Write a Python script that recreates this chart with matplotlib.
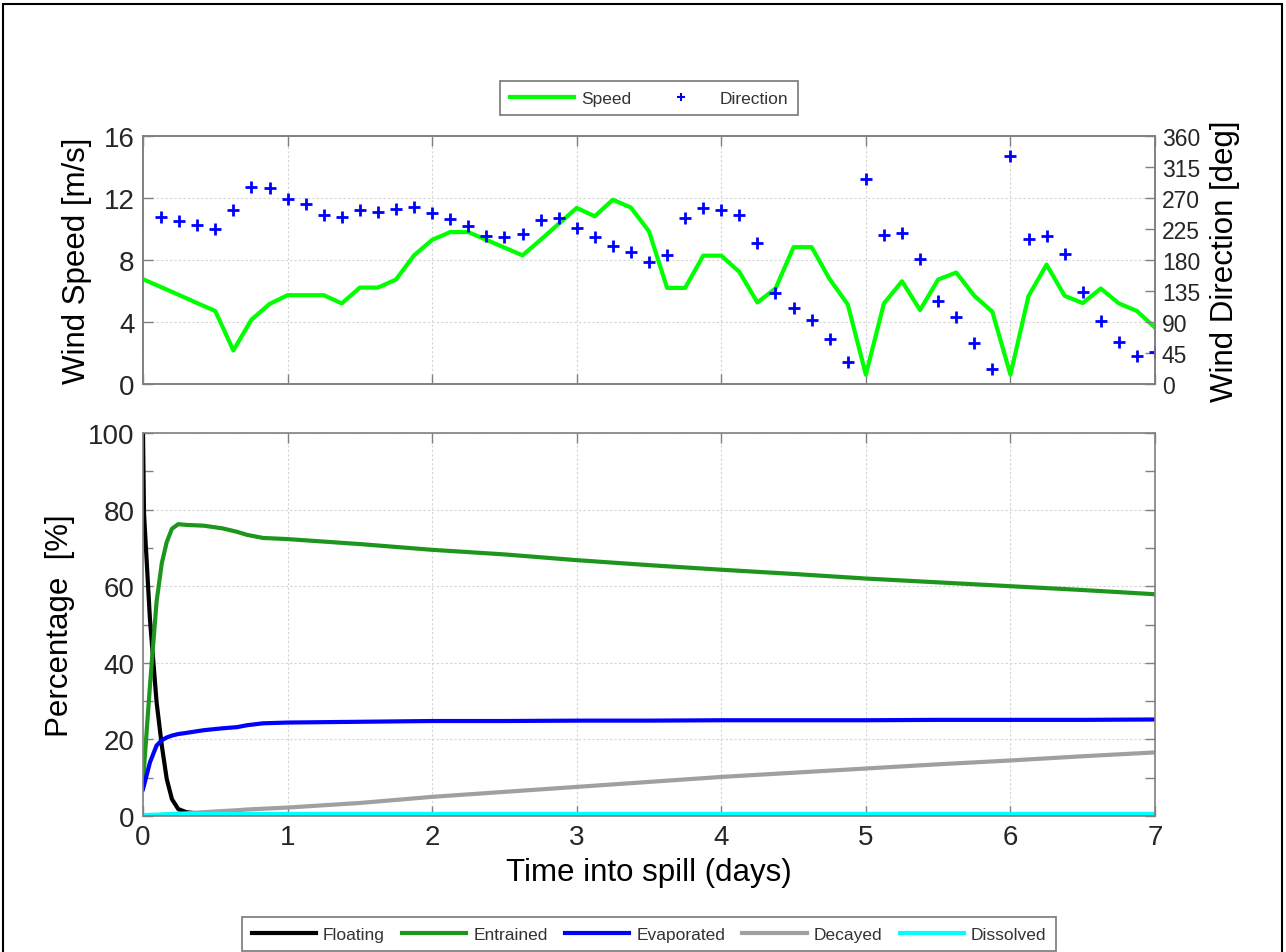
import matplotlib.pyplot as plt
from matplotlib.patches import Rectangle
from matplotlib.lines import Line2D

plt.rcParams['font.family'] = ['Liberation Sans', 'DejaVu Sans']

# wind record, 3-hourly (days)
wind_t = [0.0, 0.125, 0.25, 0.375, 0.5, 0.625, 0.75, 0.875, 1.0, 1.125, 1.25, 1.375,
          1.5, 1.625, 1.75, 1.875, 2.0, 2.125, 2.25, 2.375, 2.5, 2.625, 2.75, 2.875,
          3.0, 3.125, 3.25, 3.375, 3.5, 3.625, 3.75, 3.875, 4.0, 4.125, 4.25, 4.375,
          4.5, 4.625, 4.75, 4.875, 5.0, 5.125, 5.25, 5.375, 5.5, 5.625, 5.75, 5.875,
          6.0, 6.125, 6.25, 6.375, 6.5, 6.625, 6.75, 6.875, 7.0]
speed = [6.76, 6.25, 5.74, 5.22, 4.71, 2.16, 4.15, 5.16, 5.73, 5.73, 5.73, 5.20,
         6.22, 6.22, 6.74, 8.30, 9.30, 9.80, 9.80, 9.30, 8.80, 8.30, 9.30, 10.33,
         11.36, 10.82, 11.89, 11.38, 9.85, 6.20, 6.20, 8.28, 8.28, 7.23, 5.26, 6.16,
         8.83, 8.83, 6.76, 5.13, 0.60, 5.20, 6.63, 4.77, 6.74, 7.19, 5.69, 4.66,
         0.60, 5.67, 7.70, 5.69, 5.22, 6.16, 5.20, 4.71, 3.64]
direction = [None, 243, 236, 231, 225, 253, 286, 284, 268, 261, 246, 243,
             253, 250, 254, 257, 248, 240, 229, 215, 213, 218, 238, 241,
             226, 213, 201, 192, 177, 187, 241, 256, 253, 246, 204, 132,
             110, 93, 65, 32, 297, 217, 219, 181, 120, 97, 59, 22,
             331, 211, 215, 189, 133, 92, 61, 40, 46]

# mass balance (days, %)
t = [0.0, 0.007, 0.048, 0.094, 0.13, 0.164, 0.2, 0.244, 0.3, 0.42, 0.55, 0.65,
     0.72, 0.83, 1.0, 1.5, 2.0, 2.5, 3.0, 3.5, 4.0, 4.5, 5.0, 5.5, 6.0, 6.5, 7.0]
floating = [100, 79, 51.4, 29.7, 18.4, 9.7, 4.4, 1.8, 1.0, 0.5, 0.2, 0.1,
            0, 0, 0, 0, 0, 0, 0, 0, 0, 0, 0, 0, 0, 0, 0]
entrained = [9.7, 12.5, 34, 56, 66, 71.5, 75.0, 76.2, 76.0, 75.8, 75.1, 74.2,
             73.4, 72.6, 72.3, 71.0, 69.5, 68.3, 66.8, 65.5, 64.3, 63.2, 62.0,
             61.0, 60.0, 59.0, 57.9]
evaporated = [7.0, 8.0, 14.0, 18.4, 19.8, 20.5, 21.0, 21.4, 21.7, 22.4, 22.9, 23.2,
              23.7, 24.2, 24.4, 24.6, 24.8, 24.8, 24.9, 24.9, 25.0, 25.0, 25.0,
              25.1, 25.1, 25.1, 25.2]
decayed = [0, 0.02, 0.1, 0.2, 0.3, 0.4, 0.5, 0.6, 0.7, 1.0, 1.3, 1.5,
           1.7, 1.9, 2.2, 3.4, 5.0, 6.3, 7.6, 8.9, 10.2, 11.3, 12.4, 13.5,
           14.5, 15.6, 16.6]
dissolved = [0.2, 0.25, 0.3, 0.35, 0.4, 0.45, 0.5, 0.5, 0.5, 0.55, 0.55, 0.55,
             0.55, 0.55, 0.55, 0.55, 0.55, 0.55, 0.55, 0.55, 0.55, 0.55, 0.55,
             0.55, 0.55, 0.55, 0.55]

spine_c = '#808080'
tick_c = '#262626'
grid_kw = dict(color='#d4d4d4', linestyle=(0, (2, 2)), linewidth=0.8)

fig = plt.figure(figsize=(12.86, 9.53), dpi=100)
fig.patches.append(Rectangle((3 / 1286, -0.01), 1279 / 1286, 1 - 5 / 953 + 0.01,
                             transform=fig.transFigure, fill=False,
                             edgecolor='black', linewidth=1.5))

ax1 = fig.add_axes([143 / 1286, 1 - 385 / 953, 1012 / 1286, 248 / 953])
ax2 = ax1.twinx()
ax3 = fig.add_axes([143 / 1286, 1 - 817 / 953, 1012 / 1286, 383 / 953])

# top panel
ax1.plot(wind_t, speed, color='#00ff00', linewidth=3, zorder=3)
dir_t = [a for a, b in zip(wind_t, direction) if b is not None]
dir_v = [b for b in direction if b is not None]
ax2.plot(dir_t, dir_v, linestyle='none', marker='+', color='#0000ff',
         markersize=8, markeredgewidth=2)
ax1.set_xlim(0, 7)
ax1.set_ylim(0, 16)
ax1.set_yticks([0, 4, 8, 12, 16])
ax1.set_xticks(range(8))
ax1.set_xticklabels([])
ax2.set_ylim(0, 360)
ax2.set_yticks(range(0, 361, 45))
ax1.grid(True, **grid_kw)
ax1.set_ylabel('Wind Speed [m/s]', fontsize=22.5)
ax2.set_ylabel('Wind Direction [deg]', fontsize=22.5)
ax1.yaxis.set_label_coords(-0.050, 0.5)
ax2.yaxis.set_label_coords(1.054, 0.5)
ax1.tick_params(axis='both', direction='in', length=7, width=1, color=spine_c,
                labelsize=20, labelcolor=tick_c, top=True, right=False, pad=6)
ax2.tick_params(axis='y', direction='in', length=7, width=1, color=spine_c,
                labelsize=16.5, labelcolor=tick_c, pad=5)

# bottom panel
ax3.plot(t, floating, color='black', linewidth=3, label='Floating')
ax3.plot(t, entrained, color='#1e961e', linewidth=3, label='Entrained')
ax3.plot(t, evaporated, color='#0000ff', linewidth=3, label='Evaporated')
ax3.plot(t, decayed, color='#a0a0a0', linewidth=3, label='Decayed')
ax3.plot(t, dissolved, color='#00ffff', linewidth=3, label='Dissolved')
ax3.set_xlim(0, 7)
ax3.set_ylim(0, 100)
ax3.set_xticks(range(8))
ax3.set_yticks(range(0, 101, 20))
ax3.set_yticks(range(10, 100, 20), minor=True)
ax3.grid(True, which='major', **grid_kw)
ax3.set_ylabel('Percentage  [%]', fontsize=22.5)
ax3.yaxis.set_label_coords(-0.067, 0.5)
ax3.set_xlabel('Time into spill (days)', fontsize=22.5)
ax3.xaxis.set_label_coords(0.5, -0.108)
ax3.tick_params(axis='both', which='both', direction='in', length=7, width=1,
                color=spine_c, labelsize=20, labelcolor=tick_c,
                top=True, right=True)
ax3.tick_params(axis='y', pad=6)
ax3.tick_params(axis='x', pad=6)

for ax in (ax1, ax2, ax3):
    for s in ax.spines.values():
        s.set_color(spine_c)
        s.set_linewidth(1.2)

leg_kw = dict(fontsize=12.5, frameon=True, fancybox=False, edgecolor='#555555',
              handlelength=3.7, handletextpad=0.4, columnspacing=1.0,
              borderpad=0.55, labelcolor='#333333', loc='center')

h1 = [Line2D([], [], color='#00ff00', linewidth=3),
      Line2D([], [], linestyle='none', marker='+', color='#0000ff',
             markersize=6, markeredgewidth=1.5)]
l1 = fig.legend(h1, ['Speed', 'Direction'], ncol=2,
                bbox_to_anchor=(649 / 1286, 1 - 99 / 953), **leg_kw)
l1.get_frame().set_linewidth(1.2)

l2 = fig.legend(*ax3.get_legend_handles_labels(), ncol=5,
                bbox_to_anchor=(649 / 1286, 1 - 935 / 953), **leg_kw)
l2.get_frame().set_linewidth(1.2)

fig.savefig('out.png', dpi=100, facecolor='white')
